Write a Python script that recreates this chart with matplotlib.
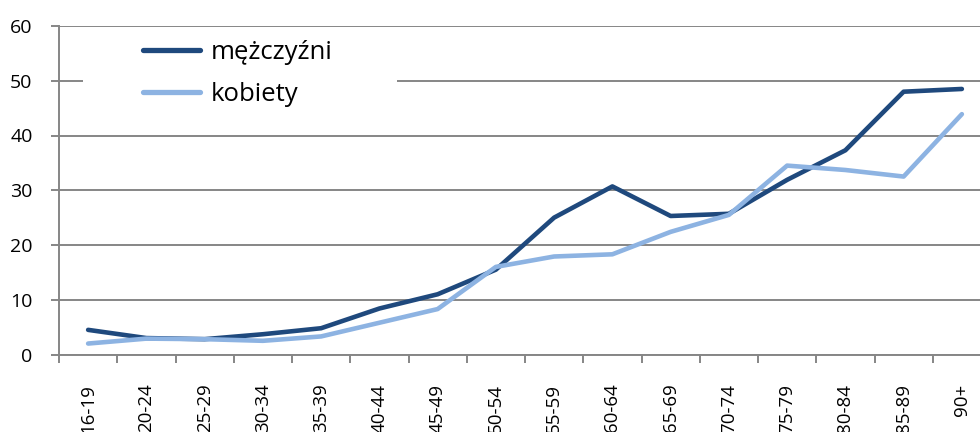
import matplotlib
matplotlib.use("Agg")
import matplotlib.pyplot as plt
from matplotlib.patches import Rectangle

categories = ["16-19", "20-24", "25-29", "30-34", "35-39", "40-44", "45-49", "50-54",
              "55-59", "60-64", "65-69", "70-74", "75-79", "80-84", "85-89", "90+"]
men = [4.5, 3.0, 2.8, 3.7, 4.8, 8.4, 11.0, 15.5, 25.0, 30.7, 25.3, 25.7, 31.9, 37.3, 48.0, 48.5]
women = [2.0, 2.9, 2.8, 2.5, 3.3, 5.8, 8.3, 16.0, 17.9, 18.3, 22.4, 25.5, 34.5, 33.7, 32.5, 43.9]
series_names = ["mężczyźni", "kobiety"]
yticks = [0, 10, 20, 30, 40, 50, 60]

plt.rcParams['font.family'] = ['Open Sans', 'DejaVu Sans']

W, H = 980, 432
fig = plt.figure(figsize=(W / 100, H / 100), dpi=100)
left, right, top, bottom = 59, 991, 26, 354.5
ax = fig.add_axes([left / W, 1 - bottom / H, (right - left) / W, (bottom - top) / H])

grid_col = "#868686"
x = list(range(len(categories)))
ax.plot(x, men, color="#1F497D", lw=3.3, solid_capstyle="round", solid_joinstyle="round", zorder=3, label=series_names[0])
ax.plot(x, women, color="#8DB3E2", lw=3.3, solid_capstyle="round", solid_joinstyle="round", zorder=3, label=series_names[1])

ax.set_xlim(-0.5, len(categories) - 0.5)
ax.set_ylim(0, 60)
ax.set_yticks(yticks)
ax.set_yticklabels([str(v) for v in yticks], fontsize=14)
ax.yaxis.grid(True, color=grid_col, lw=1.4)
ax.set_axisbelow(True)

ax.set_xticks([i - 0.5 for i in range(len(categories) + 1)])
ax.set_xticklabels([])
ax.set_xticks(x, minor=True)
ax.set_xticklabels(categories, minor=True, rotation=90, fontsize=13.5, va="top", ha="center")
ax.tick_params(axis="x", which="minor", length=0, pad=21)
ax.tick_params(axis="x", which="major", length=6, width=1.4, color=grid_col, direction="out")
ax.tick_params(axis="y", length=6, width=1.4, color=grid_col, direction="out", pad=13)

for s in ["top", "right"]:
    ax.spines[s].set_visible(False)
for s in ["left", "bottom"]:
    ax.spines[s].set_color(grid_col)
    ax.spines[s].set_linewidth(1.4)

# white legend background covering grid
ax.add_patch(Rectangle((83 / W, 1 - 118 / H), (397 - 83) / W, (118 - 32) / H,
                       transform=fig.transFigure, facecolor="white", edgecolor="none",
                       zorder=1, clip_on=False))

leg = ax.legend(loc="upper left", bbox_to_anchor=(143 / W, 1 - 40 / H), bbox_transform=fig.transFigure,
                frameon=False, fontsize=18.5, handlelength=2.2, handletextpad=0.45, labelspacing=0.68,
                borderpad=0, borderaxespad=0)
for line in leg.get_lines():
    line.set_linewidth(3.8)
    line.set_solid_capstyle("round")

fig.savefig("out.png", dpi=100, facecolor="white")
